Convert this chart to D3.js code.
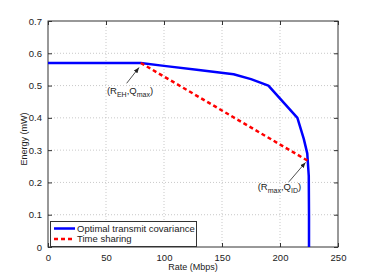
<!DOCTYPE html>
<html><head><meta charset="utf-8">
<script src="https://cdn.jsdelivr.net/npm/d3@7"></script>
<style>body{margin:0;background:#fff}svg{display:block}text{font-family:"Liberation Sans",Arial,sans-serif;fill:#222}</style>
</head><body><svg id="c" width="374" height="280"></svg>
<script>
const optRate   = [0, 80, 100, 130, 160, 175, 190, 215, 220.5, 223.5, 224.8, 225, 225];
const optEnergy = [0.57, 0.57, 0.561, 0.548, 0.535, 0.52, 0.5, 0.40, 0.335, 0.29, 0.22, 0.1, 0];
const tsRate    = [80, 224];
const tsEnergy  = [0.57, 0.267];
const xTicks = [0, 50, 100, 150, 200, 250];
const yTicks = [0, 0.1, 0.2, 0.3, 0.4, 0.5, 0.6, 0.7];
const legendLabels = ["Optimal transmit covariance", "Time sharing"];

const svg = d3.select("#c");
const L = 48, R = 338, T = 21, B = 247;
const x = d3.scaleLinear().domain([0, 250]).range([L, R]);
const y = d3.scaleLinear().domain([0, 0.7]).range([B, T]);

// grid
const g = svg.append("g");
g.selectAll(".gx").data(xTicks.slice(1, -1)).join("line")
  .attr("x1", d => x(d)).attr("x2", d => x(d)).attr("y1", T).attr("y2", B)
  .attr("stroke", "#bbb").attr("stroke-width", 0.8).attr("stroke-dasharray", "1,2");
g.selectAll(".gy").data(yTicks.slice(1, -1)).join("line")
  .attr("y1", d => y(d)).attr("y2", d => y(d)).attr("x1", L).attr("x2", R)
  .attr("stroke", "#bbb").attr("stroke-width", 0.8).attr("stroke-dasharray", "1,2");

// axes (inward ticks)
const fmtY = d => d === 0 ? "0" : d3.format(".1f")(d);
const ax = (gen, tr) => {
  const a = svg.append("g").attr("transform", tr).call(gen);
  a.select(".domain").remove();
  a.selectAll("text").style("font-size", "9.5px").style("font-family", "Liberation Sans, Arial, sans-serif").attr("fill", "#222");
  a.selectAll("line").attr("stroke", "#333");
  return a;
};
ax(d3.axisBottom(x).tickValues(xTicks).tickSize(-4).tickPadding(7).tickFormat(d3.format("d")), `translate(0,${B})`);
ax(d3.axisLeft(y).tickValues(yTicks).tickSize(-4).tickPadding(6).tickFormat(fmtY), `translate(${L},0)`);
ax(d3.axisTop(x).tickValues(xTicks).tickSize(-4).tickFormat(""), `translate(0,${T})`);
ax(d3.axisRight(y).tickValues(yTicks).tickSize(-4).tickFormat(""), `translate(${R},0)`);
svg.append("rect").attr("x", L).attr("y", T).attr("width", R - L).attr("height", B - T)
  .attr("fill", "none").attr("stroke", "#333").attr("stroke-width", 1);

// lines
const line = d3.line().x(d => x(d[0])).y(d => y(d[1]));
svg.append("path").datum(optRate.map((r, i) => [r, optEnergy[i]]))
  .attr("d", line).attr("fill", "none").attr("stroke", "#0000ff").attr("stroke-width", 2.5).attr("stroke-linejoin", "round");
svg.append("path").datum(tsRate.map((r, i) => [r, tsEnergy[i]]))
  .attr("d", line).attr("fill", "none").attr("stroke", "#ff0000").attr("stroke-width", 2.5).attr("stroke-dasharray", "4,3");

// annotations
svg.append("defs").append("marker").attr("id", "ah").attr("viewBox", "0 0 10 10")
  .attr("refX", 10).attr("refY", 5).attr("markerWidth", 7).attr("markerHeight", 7).attr("orient", "auto")
  .append("path").attr("d", "M0,1 L10,5 L0,9 Z").attr("fill", "#222");
function annot(tx, ty, px, py, lx, ly, main1, sub1, main2, sub2) {
  svg.append("line").attr("x1", tx).attr("y1", ty).attr("x2", px).attr("y2", py)
    .attr("stroke", "#222").attr("stroke-width", 0.8).attr("marker-end", "url(#ah)");
  const t = svg.append("text").attr("x", lx).attr("y", ly).attr("text-anchor", "middle").style("font-size", "9.5px");
  t.append("tspan").text("(" + main1);
  t.append("tspan").text(sub1).attr("dy", 3).style("font-size", "7px");
  t.append("tspan").text("," + main2).attr("dy", -3);
  t.append("tspan").text(sub2).attr("dy", 3).style("font-size", "7px");
  t.append("tspan").text(")").attr("dy", -3);
}
annot(x(67.8), y(0.507), x(78.5), y(0.556), x(70.7), y(0.473), "R", "EH", "Q", "max");
annot(x(207.7), y(0.202), x(222), y(0.262), x(199.5), y(0.176), "R", "max", "Q", "ID");

// legend
const lg = svg.append("g");
lg.append("rect").attr("x", 50.5).attr("y", 221.5).attr("width", 146).attr("height", 25)
  .attr("fill", "#fff").attr("stroke", "#333").attr("stroke-width", 1);
const colors = ["#0000ff", "#ff0000"];
legendLabels.forEach((lab, i) => {
  const yy = 228.5 + i * 10.5;
  lg.append("line").attr("x1", 54).attr("x2", 75).attr("y1", yy).attr("y2", yy)
    .attr("stroke", colors[i]).attr("stroke-width", 2.5).attr("stroke-dasharray", i ? "4,3" : null);
  lg.append("text").attr("x", 77).attr("y", yy + 3.3).text(lab).style("font-size", "9.5px");
});

// axis labels
svg.append("text").attr("x", (L + R) / 2).attr("y", 270).attr("text-anchor", "middle").style("font-size", "9px").text("Rate (Mbps)");
svg.append("text").attr("transform", `translate(27,${(T + B) / 2 + 5}) rotate(-90)`).attr("text-anchor", "middle").style("font-size", "9px").text("Energy (mW)");
</script></body></html>
